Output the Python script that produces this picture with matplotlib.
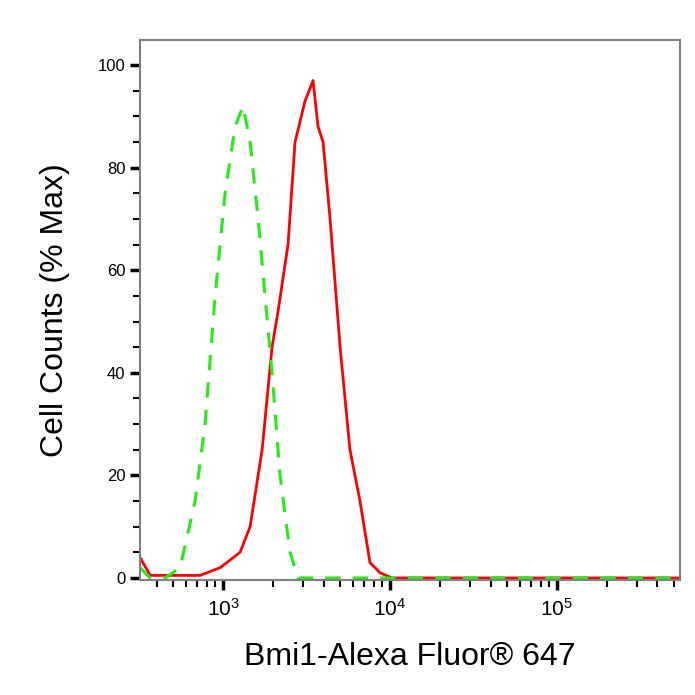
import matplotlib
matplotlib.use("Agg")
import matplotlib.pyplot as plt
from matplotlib.ticker import LogLocator, MultipleLocator, NullFormatter, FixedLocator

plt.rcParams['font.family'] = ['Liberation Sans', 'DejaVu Sans']

red_x = [318, 366, 728, 960, 1264, 1452, 1714, 1965, 2135, 2450, 2698, 3097, 3459, 3707, 3972, 4375, 5024, 5754, 6607, 7586, 8710, 10280, 100000, 546000]
red_y = [4, 0.5, 0.5, 2, 5, 10, 25, 45, 52, 65, 85, 93, 97, 88, 85, 70, 45, 25, 15, 3, 1, 0, 0, 0]
green_x = [318, 366, 450, 553, 680, 780, 896, 1028, 1180, 1318, 1452, 1622, 1784, 1965, 2194, 2517, 2812, 100000, 546000]
green_y = [2, 0, 0, 2, 15, 30, 55, 75, 88, 92, 85, 70, 55, 40, 20, 5, 0, 0, 0]
y_ticks = [0, 20, 40, 60, 80, 100]

fig = plt.figure(figsize=(6.95, 6.95), dpi=100)
ax = fig.add_axes([140/695, 115/695, 540/695, 540/695])
ax.plot(red_x, red_y, color="red", lw=2)
ax.plot(green_x, green_y, color="#22ee11", lw=2.2, ls=(0, (5, 4)))
ax.set_xscale("log")
ax.set_xlim(318, 546000)
ax.set_ylim(-0.4, 104.9)
ax.set_yticks(y_ticks)
ax.yaxis.set_minor_locator(MultipleLocator(5))
ax.xaxis.set_major_locator(FixedLocator([1e3, 1e4, 1e5]))
ax.xaxis.set_minor_locator(LogLocator(base=10, subs=range(2, 10)))
ax.xaxis.set_minor_formatter(NullFormatter())
for s in ax.spines.values():
    s.set_color("#808080"); s.set_linewidth(1.5)
ax.tick_params(axis="both", which="major", length=7, width=2.5, labelsize=12, color="black")
ax.tick_params(axis="both", which="minor", length=5, width=1.5, color="black")
ax.tick_params(axis="x", pad=6, labelsize=15)
ax.set_xlabel("Bmi1-Alexa Fluor® 647", fontsize=23, labelpad=16)
ax.set_ylabel("Cell Counts (% Max)", fontsize=23, labelpad=20)
fig.savefig("out.png", dpi=100)
